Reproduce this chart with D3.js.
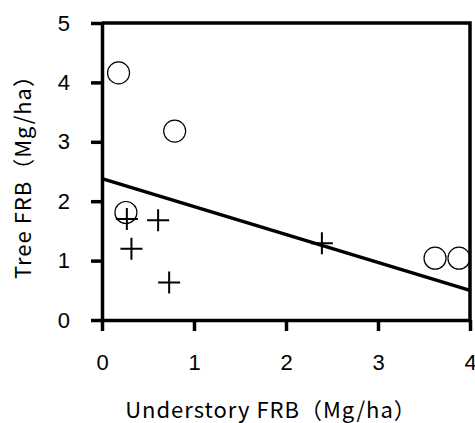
<!DOCTYPE html>
<html>
<head>
<meta charset="utf-8">
<script src="https://cdn.jsdelivr.net/npm/d3@7"></script>
<style>
  body { margin: 0; background: #fff; }
  svg { display: block; }
  .tick text { font-family: "Liberation Sans", Arial, sans-serif; }
  .title { font-family: "Noto Sans CJK JP", sans-serif; letter-spacing: 1px; }
</style>
</head>
<body>
<div id="chart"></div>
<script>
// circles (open markers)
const circleX = [0.18, 0.79, 0.26, 3.62, 3.88];
const circleY = [4.16, 3.18, 1.81, 1.04, 1.04];
// crosses
const crossX = [0.27, 0.61, 0.32, 0.73, 2.39];
const crossY = [1.70, 1.68, 1.20, 0.63, 1.29];
// regression line
const lineX = [0, 4];
const lineY = [2.38, 0.50];

const xTicks = [0, 1, 2, 3, 4];
const yTicks = [0, 1, 2, 3, 4, 5];

const width = 475, height = 423;
const margin = { top: 23, right: 5, bottom: 103, left: 102 };

const svg = d3.select('#chart')
    .append('svg')
    .attr('width', width)
    .attr('height', height);

const x = d3.scaleLinear().domain([0, 4]).range([margin.left, width - margin.right]);
const y = d3.scaleLinear().domain([0, 5]).range([height - margin.bottom, margin.top]);

// frame: top and right lines
svg.append('path')
    .attr('d', `M${x(0)},${y(5)}H${x(4)}V${y(0)}`)
    .attr('fill', 'none')
    .attr('stroke', '#000')
    .attr('stroke-width', 3.5);

const xAxis = svg.append('g')
    .attr('transform', `translate(0,${y(0)})`)
    .call(d3.axisBottom(x).tickValues(xTicks).tickFormat(d3.format('d'))
      .tickSize(11).tickPadding(23).tickSizeOuter(0));

const yAxis = svg.append('g')
    .attr('transform', `translate(${x(0)},0)`)
    .call(d3.axisLeft(y).tickValues(yTicks).tickFormat(d3.format('d'))
      .tickSize(11).tickPadding(21).tickSizeOuter(0));

[xAxis, yAxis].forEach(g => {
  g.select('.domain').attr('stroke-width', 3.5);
  g.selectAll('.tick line').attr('stroke-width', 3.5);
  g.selectAll('.tick text').attr('font-size', 22).attr('fill', '#000');
});

// regression line
svg.append('path')
    .datum(lineX.map((d, i) => [d, lineY[i]]))
    .attr('fill', 'none')
    .attr('stroke', '#000')
    .attr('stroke-width', 3.5)
    .attr('d', d3.line().x(d => x(d[0])).y(d => y(d[1])));

// circles
svg.selectAll('circle.pt')
    .data(circleX.map((d, i) => [d, circleY[i]]))
    .join('circle')
    .classed('pt', true)
    .attr('cx', d => x(d[0]))
    .attr('cy', d => y(d[1]))
    .attr('r', 11)
    .attr('fill', 'none')
    .attr('stroke', '#000')
    .attr('stroke-width', 1.2);

// crosses
const cs = 11;
svg.selectAll('path.cross')
    .data(crossX.map((d, i) => [d, crossY[i]]))
    .join('path')
    .classed('cross', true)
    .attr('d', d => `M${x(d[0]) - cs},${y(d[1])}h${2 * cs}M${x(d[0])},${y(d[1]) - cs}v${2 * cs}`)
    .attr('stroke', '#000')
    .attr('stroke-width', 2);

// axis titles
svg.append('text')
    .attr('class', 'title')
    .attr('x', 271)
    .attr('y', 418)
    .attr('text-anchor', 'middle')
    .attr('font-size', 22)
    .text('Understory FRB（Mg/ha）');

svg.append('text')
    .attr('class', 'title')
    .attr('transform', `translate(31,${(y(0) + y(5)) / 2}) rotate(-90)`)
    .attr('text-anchor', 'middle')
    .attr('font-size', 22)
    .text('Tree FRB（Mg/ha）');
</script>
</body>
</html>
